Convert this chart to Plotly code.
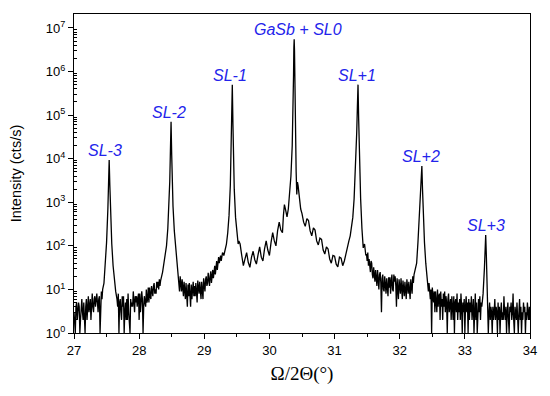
import math
import plotly.graph_objects as go

# ---- data (2theta in degrees, intensity in cts/s) ----
# noisy background stretches, scanned with a 0.01 deg step: (start angle, intensities)
bg_a_start = 27.00
bg_a_y = [3, 2, 1, 4, 5, 2, 3, 5, 4, 1, 2, 4, 6, 3, 2, 5, 3, 1, 4, 6, 2, 5, 7, 3, 4,
          6, 2, 5, 8, 4, 3, 6, 7, 4, 5, 8, 5, 3, 6, 7, 1, 5, 9, 6, 10]

bg_b_start = 27.66
bg_b_y = [6, 4, 8, 1, 5, 6, 3, 2, 7, 4, 7, 1, 3, 5, 2, 6, 2, 8, 3, 1, 1, 6, 4, 5, 4,
          9, 3, 3, 7, 5, 7, 4, 6, 8, 2, 8, 3, 5, 9, 6, 1, 4, 7, 5, 4, 10, 5, 6, 11, 5,
          11, 7, 6, 12, 8, 7, 12, 14, 8, 10, 8, 15, 11, 15, 10, 17, 12, 16]

bg_c_start = 28.61
bg_c_y = [14, 9, 20, 12, 9, 17, 10, 7, 15, 9, 6, 14, 8, 4, 13, 7, 14, 9, 4, 13, 6, 10,
          15, 7, 12, 7, 14, 9, 5, 16, 10, 8, 15, 10, 6, 15, 11, 6, 18, 12, 9, 17, 20,
          12, 14, 24, 15, 12, 20, 26, 14, 22, 28, 18, 24, 35, 22, 30, 45, 28, 38, 55,
          40, 48, 60, 45, 65]

bg_d_start = 31.49
bg_d_y = [65, 45, 70, 35, 50, 30, 25, 45, 40, 22, 18, 32, 25, 15, 28, 20, 12, 28, 15,
          10, 22, 25, 14, 3, 18, 22, 10, 9, 20, 14, 8, 18, 12, 7, 19, 11, 19, 8, 15, 22,
          10, 9, 22, 15, 20, 12, 4, 18, 10, 6, 17, 11, 8, 18, 12, 6, 16, 10, 7, 15, 11,
          6, 17, 9, 8, 15, 10, 6, 17, 12, 8, 20, 14, 22, 25, 28, 32]

bg_e_start = 32.43
bg_e_y = [12, 9, 14, 7, 6, 10, 1, 11, 8, 5, 9, 3, 9, 6, 3, 10, 4, 7, 8, 2, 9, 4, 6, 2,
          8, 4, 9, 3, 7, 5, 1, 6, 8, 3, 5, 6, 2, 7, 4, 2, 7, 1, 5, 6, 3, 8, 2, 5, 3, 6,
          2, 8, 4, 1, 5, 3, 6, 1, 4, 7, 3, 5, 1, 6, 2, 5, 3, 7, 2, 4, 6, 1, 3, 8, 2, 5,
          1, 4, 6, 3, 7, 2, 5, 4, 6]

bg_f_start = 33.37
bg_f_y = [3, 5, 2, 4, 3, 1, 4, 2, 3, 6, 2, 4, 3, 1, 5, 2, 4, 1, 3, 5, 2, 3, 2, 7, 3,
          2, 4, 1, 3, 5, 2, 1, 4, 3, 5, 2, 3, 8, 2, 1, 4, 3, 2, 5, 3, 1, 3, 6, 2, 4,
          1, 3, 2, 5, 3, 4, 1, 3, 2, 5, 3, 2, 4, 2]
scan_step = 0.01

# peaks and interference fringes (explicit angle / intensity pairs)
sl_m3_x = [27.46, 27.48, 27.50, 27.52, 27.53, 27.54, 27.55, 27.56, 27.58, 27.60, 27.62, 27.64]
sl_m3_y = [14, 40, 120, 700, 3000, 9300, 2500, 600, 110, 35, 14, 9]

sl_m2_x = [28.36, 28.40, 28.42, 28.44, 28.46, 28.47, 28.48, 28.49, 28.50, 28.51, 28.52,
           28.54, 28.56, 28.58, 28.60]
sl_m2_y = [25, 60, 100, 250, 900, 3000, 15000, 70000, 12000, 2500, 800, 220, 90, 35, 18]

sl_m1_x = [29.28, 29.30, 29.32, 29.34, 29.36, 29.38, 29.40, 29.41, 29.42, 29.43, 29.44,
           29.45, 29.46, 29.48, 29.50, 29.52, 29.53]
sl_m1_y = [70, 60, 85, 110, 200, 500, 2500, 15000, 80000, 500000, 60000, 8000, 2000,
           450, 180, 110, 130]

fr_left_x = [29.55, 29.575, 29.60, 29.625, 29.65, 29.675, 29.70, 29.725, 29.75, 29.775,
             29.80, 29.825, 29.85, 29.875, 29.90, 29.925, 29.95, 29.975, 30.00, 30.025,
             30.05, 30.075, 30.10, 30.125, 30.15, 30.175, 30.20, 30.215, 30.23, 30.25,
             30.27, 30.29]
fr_left_y = [110, 60, 35, 50, 70, 42, 32, 55, 75, 48, 38, 62, 95, 55, 45, 85, 130, 80,
             60, 120, 200, 130, 100, 220, 350, 230, 200, 500, 880, 650, 460, 700]

gasb_x = [30.31, 30.33, 30.35, 30.36, 30.37, 30.375, 30.38, 30.385, 30.39, 30.40, 30.41,
          30.42, 30.43, 30.44, 30.46, 30.48]
gasb_y = [1500, 4000, 20000, 80000, 800000, 3500000, 5500000, 3000000, 600000, 40000,
          5000, 1500, 2900, 2400, 1200, 700]

fr_right_x = [30.50, 30.525, 30.55, 30.575, 30.60, 30.625, 30.65, 30.675, 30.70, 30.725,
              30.75, 30.775, 30.80, 30.825, 30.85, 30.875, 30.90, 30.925, 30.95, 30.975,
              31.00, 31.025, 31.05, 31.075, 31.10, 31.125, 31.15, 31.175, 31.20, 31.22,
              31.24, 31.26, 31.28]
fr_right_y = [550, 350, 280, 420, 380, 220, 170, 260, 230, 130, 105, 150, 140, 80, 65,
              95, 85, 50, 40, 60, 58, 38, 33, 55, 52, 35, 45, 70, 90, 130, 170, 250, 450]

sl_p1_x = [31.30, 31.32, 31.34, 31.35, 31.36, 31.37, 31.38, 31.40, 31.42, 31.44, 31.46, 31.48]
sl_p1_y = [1200, 5000, 40000, 150000, 500000, 80000, 9000, 1200, 250, 90, 110, 60]

sl_p2_x = [32.26, 32.28, 32.30, 32.32, 32.34, 32.35, 32.36, 32.38, 32.40, 32.42]
sl_p2_y = [40, 120, 500, 2500, 6800, 2000, 500, 120, 40, 18]

sl_p3_x = [33.28, 33.30, 33.31, 33.32, 33.33, 33.34, 33.36]
sl_p3_y = [8, 30, 80, 178, 60, 12, 1]

peak_labels = ["SL-3", "SL-2", "SL-1", "GaSb + SL0", "SL+1", "SL+2", "SL+3"]
peak_pos = [27.54, 28.49, 29.43, 30.38, 31.36, 32.34, 33.32]
peak_int = [9300, 70000, 500000, 5500000, 500000, 6800, 178]

y_tick_exp = [0, 1, 2, 3, 4, 5, 6, 7]
x_ticks = [27, 28, 29, 30, 31, 32, 33, 34]


def scan(start, values):
    return [round(start + scan_step * i, 3) for i in range(len(values))], list(values)


pieces = [
    scan(bg_a_start, bg_a_y), (sl_m3_x, sl_m3_y),
    scan(bg_b_start, bg_b_y), (sl_m2_x, sl_m2_y),
    scan(bg_c_start, bg_c_y), (sl_m1_x, sl_m1_y),
    (fr_left_x, fr_left_y), (gasb_x, gasb_y), (fr_right_x, fr_right_y),
    (sl_p1_x, sl_p1_y), scan(bg_d_start, bg_d_y), (sl_p2_x, sl_p2_y),
    scan(bg_e_start, bg_e_y), (sl_p3_x, sl_p3_y), scan(bg_f_start, bg_f_y),
]
two_theta, intensity = [], []
for px, py in pieces:
    two_theta += px
    intensity += py

fig = go.Figure()
fig.add_trace(go.Scatter(x=two_theta, y=intensity, mode="lines",
                         line=dict(color="black", width=1.3), showlegend=False))

label_xshift = [-4, -2, -2, 4, -1, -1, 0]
for lab, px, pi, dx in zip(peak_labels, peak_pos, peak_int, label_xshift):
    fig.add_annotation(x=px, y=math.log10(pi), text=lab, showarrow=False,
                       xanchor="center", yanchor="bottom", yshift=-1, xshift=dx,
                       font=dict(family="Liberation Sans, Arial", size=16,
                                 color="rgb(35,35,235)", style="italic"))

fig.update_layout(
    width=550, height=396,
    margin=dict(l=66, r=28, t=6, b=71),
    paper_bgcolor="white", plot_bgcolor="white",
    font=dict(family="Liberation Sans, Arial", size=13, color="black"),
)
fig.update_xaxes(
    range=[27, 34], tickvals=x_ticks, ticks="outside", ticklen=5, tickwidth=1,
    tickcolor="black", showline=True, linecolor="black", linewidth=1, mirror=True,
    showgrid=False, zeroline=False,
    minor=dict(dtick=0.5, ticks="outside", ticklen=3, tickcolor="black", showgrid=False),
    title=dict(text="Ω/2Θ(°)", font=dict(family="Liberation Serif, Times New Roman", size=19),
               standoff=10),
)
fig.update_yaxes(
    type="log", range=[0, 7.32],
    tickvals=[10 ** e for e in y_tick_exp],
    ticktext=[f"10<sup>{e}</sup>" for e in y_tick_exp],
    ticks="outside", ticklen=5, tickwidth=1, tickcolor="black",
    showline=True, linecolor="black", linewidth=1, mirror=True,
    showgrid=False, zeroline=False,
    minor=dict(ticks="inside", ticklen=3, tickcolor="black", showgrid=False,
               tickvals=[m * 10 ** e for e in y_tick_exp[:-1] for m in range(2, 10)]),
    title=dict(text="Intensity (cts/s)", font=dict(size=14.5), standoff=20),
)

fig.write_html("out.html")
